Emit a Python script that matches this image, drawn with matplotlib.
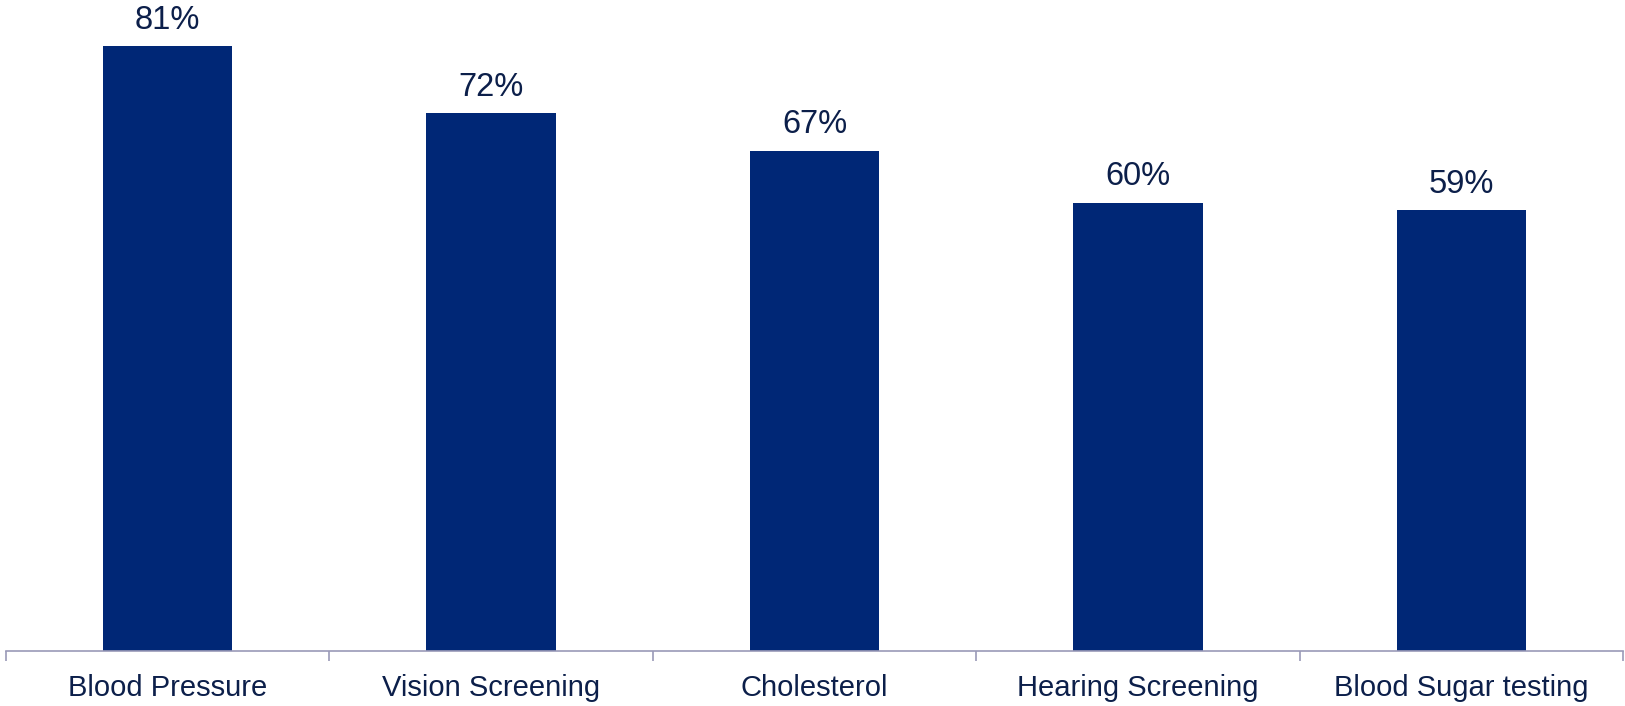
import matplotlib.pyplot as plt
from matplotlib.ticker import FixedLocator

categories = ['Blood Pressure', 'Vision Screening', 'Cholesterol',
              'Hearing Screening', 'Blood Sugar testing']
values = [81, 72, 67, 60, 59]

bar_color = '#002776'
text_color = '#0c1f4a'
axis_color = '#9a9ab8'

plt.rcParams['font.family'] = ['Liberation Sans', 'DejaVu Sans']

fig = plt.figure(figsize=(16.25, 7.06), dpi=100)
ax = fig.add_axes([6 / 1625, 55 / 706, 1617 / 1625, 651 / 706])

x = list(range(len(categories)))
bars = ax.bar(x, values, width=0.4, color=bar_color)

# percentage labels above each bar
for xi, v in zip(x, values):
    ax.annotate(f'{v}%', (xi, v), xytext=(0, 7.5), textcoords='offset points',
                ha='center', va='bottom', fontsize=23.5, color=text_color)

ax.set_xlim(-0.5, len(categories) - 0.5)
ax.set_ylim(0, 87.15)

ax.set_xticks(x)
ax.set_xticklabels(categories, fontsize=21, color=text_color)
ax.tick_params(axis='x', which='major', length=0, pad=16.5)
# small separators between categories
ax.xaxis.set_minor_locator(FixedLocator([i - 0.5 for i in range(len(categories) + 1)]))
ax.tick_params(axis='x', which='minor', length=7, width=1.2, color=axis_color, direction='out')

ax.set_yticks([])
for side in ['top', 'right', 'left']:
    ax.spines[side].set_visible(False)
ax.spines['bottom'].set_color(axis_color)
ax.spines['bottom'].set_linewidth(1.2)

fig.savefig('out.png', dpi=100)
